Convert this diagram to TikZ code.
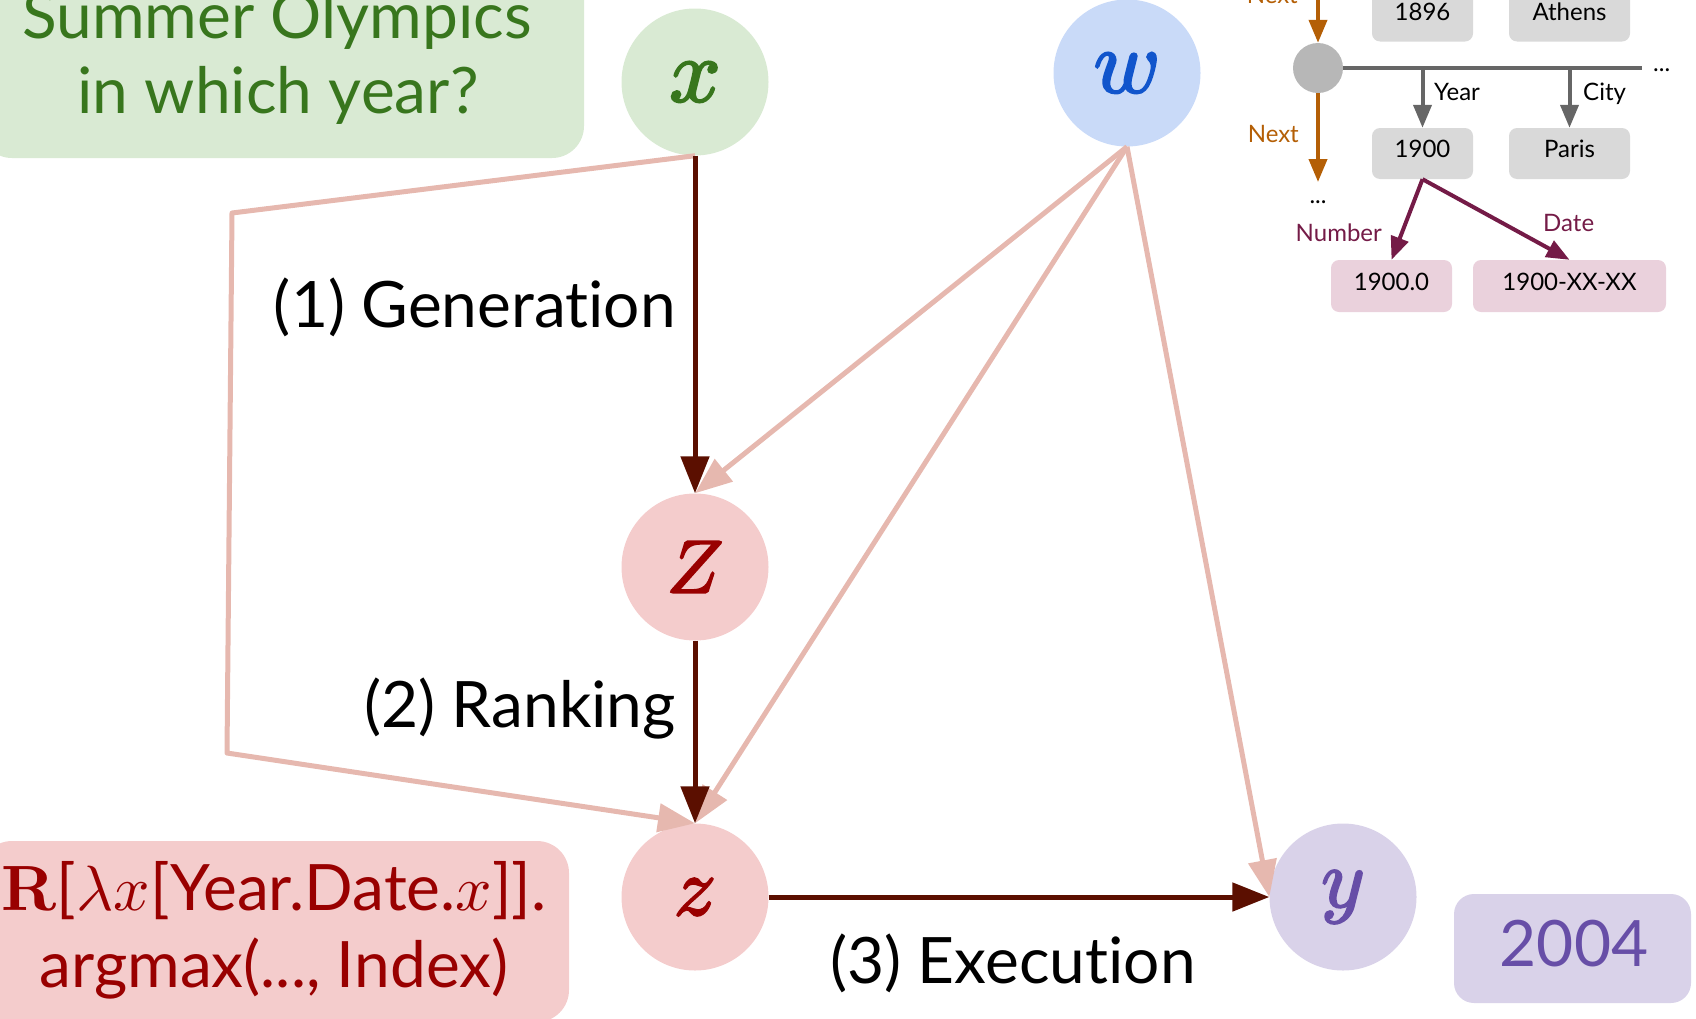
\RequirePackage{fix-cm}
\documentclass[tikz,border=0pt]{standalone}
\usepackage[no-math]{fontspec}
\setmainfont{Lato}[Ligatures=NoCommon]
\usepackage{graphicx}
\usetikzlibrary{arrows.meta}

% math set at 10pt and scaled up, so strokes keep the 10pt design weight
\newcommand\scaledmath[2]{\scalebox{#1}{\fontsize{10}{12}\selectfont$#2$}}
% same, with the glyph outline stroked as well as filled (heavier letters)
\newcommand\scaledheavymath[2]{\scalebox{#1}{\fontsize{10}{12}\selectfont
  \special{pdf:literal direct 2 Tr 0.25 w}$#2$\special{pdf:literal direct 0 Tr}}}

% palette
\definecolor{qfill}{HTML}{D9EAD3}
\definecolor{qtext}{HTML}{38761D}
\definecolor{wfill}{HTML}{C9DAF8}
\definecolor{wtext}{HTML}{1155CC}
\definecolor{zfill}{HTML}{F4CCCC}
\definecolor{ztext}{HTML}{990000}
\definecolor{yfill}{HTML}{D9D2E9}
\definecolor{ytext}{HTML}{674EA7}
\definecolor{darkarr}{HTML}{5B0F00}
\definecolor{lightarr}{HTML}{E6B8AF}
\definecolor{cellgray}{HTML}{D9D9D9}
\definecolor{circgray}{HTML}{B7B7B7}
\definecolor{edgegray}{HTML}{666666}
\definecolor{nextorange}{HTML}{B45F06}
\definecolor{valpink}{HTML}{EAD1DC}
\definecolor{valedge}{HTML}{741B47}

\begin{document}
\begin{tikzpicture}[x=1pt,y=-1pt,
  vnode/.style={circle, minimum size=147pt, inner sep=0pt},
  darkarrow/.style={draw=darkarr, line width=5pt, -{Triangle[length=37pt,width=28pt]}},
  lightarrow/.style={draw=lightarr, line width=5pt, line join=round,
                     -{Triangle[length=37pt,width=28pt]}},
  bigtext/.style={font=\fontsize{64}{77}\selectfont, inner sep=0pt},
  cell/.style={fill=cellgray, rounded corners=8pt, minimum height=51pt,
               inner sep=0pt, text height=17pt, text depth=9pt,
               font=\fontsize{24}{28}\selectfont},
  valcell/.style={cell, fill=valpink, minimum height=52pt},
  smalltext/.style={font=\fontsize{24}{28}\selectfont, inner sep=0pt},
  smallarrow/.style={line width=4pt, -{Triangle[length=23pt,width=18pt]}},
]
\useasboundingbox (0,0) rectangle (1696,1018);
\clip (0,0) rectangle (1696,1018);

% ---- question, program and answer boxes
\fill[qfill, rounded corners=32pt] (-20,-80) rectangle (584,158);
\node[bigtext, text=qtext, anchor=base] (q1) at (277,38) {Summer Olympics};
\node[bigtext, text=qtext, anchor=base] (q2) at (278,113) {in which year?};

\fill[zfill, rounded corners=32pt] (-20,841) rectangle (569,1022);
\node[bigtext, text=ztext, anchor=base] (p1) at (274,910)
  {\scaledmath{6.4}{\mathbf{R}}[\scaledmath{6.4}{\lambda x}[Year.Date.\scaledmath{6.4}{x}]].};
\node[bigtext, text=ztext, anchor=base] (p2) at (274,987) {argmax(..., Index)};

\fill[yfill, rounded corners=20pt] (1454,894) rectangle (1691,1003);
\node[bigtext, text=ytext, anchor=base] (ans) at (1574,966) {2004};

% ---- variables
\node[vnode, fill=qfill, text=qtext] (x) at (695,82) {\scaledheavymath{9.0}{x}};
\node[vnode, fill=wfill, text=wtext] (w) at (1127,73) {\scaledheavymath{9.0}{w}};
\node[vnode, fill=zfill, text=ztext] (Z) at (695,567) {\scaledheavymath{7.5}{Z}};
\node[vnode, fill=zfill, text=ztext] (z) at (695,897) {\scaledheavymath{8.3}{z}};
\node[vnode, fill=yfill, text=ytext] (y) at (1343,897) {\scaledheavymath{8.3}{y}};

% ---- dependencies
\draw[lightarrow] (x.south) -- (232,213) -- (227,753) -- (z.north);
\draw[lightarrow] (w.south) -- (Z.north);
\draw[lightarrow] (w.south) -- (z.north);
\draw[lightarrow] (w.south) -- (y.west);

\draw[darkarrow] (x.south) -- (Z.north);
\draw[darkarrow] (Z.south) -- (z.north);
\draw[darkarrow] (z.east) -- (y.west);

\node[bigtext, anchor=base east] (gen) at (676,327) {(1) Generation};
\node[bigtext, anchor=base east] (rank) at (676,727) {(2) Ranking};
\node[bigtext, anchor=base west] (exec) at (830,983) {(3) Execution};

% ---- knowledge graph fragment
\node[cell, minimum width=101pt] (c1896) at (1422.5,16) {1896};
\node[cell, minimum width=121pt] (athens) at (1569.5,16) {Athens};
\node[cell, minimum width=101pt] (c1900) at (1422.5,153.5) {1900};
\node[cell, minimum width=121pt] (paris) at (1569.5,153.5) {Paris};
\node[valcell, minimum width=121pt] (num) at (1391.5,286) {1900.0};
\node[valcell, minimum width=193pt] (date) at (1569.5,286) {1900-XX-XX};

\node[circle, fill=circgray, minimum size=50pt, inner sep=0pt] (row) at (1318,68) {};
\coordinate (rowend) at (1642,68);
\coordinate (yr) at (1422.5,68);
\coordinate (ct) at (1569.5,68);
\coordinate (prev) at (1318,-30);
\coordinate (nextrow) at (1318,182);

\draw[edgegray, line width=4pt] (row.east) -- (rowend);
\node[smalltext, anchor=base west] (dots1) at (1653,71) {...};
\draw[smallarrow, edgegray] (yr) -- (c1900.north);
\draw[smallarrow, edgegray] (ct) -- (paris.north);
\node[smalltext, anchor=base west] (lyear) at (1434,100) {Year};
\node[smalltext, anchor=base west] (lcity) at (1583,100) {City};

\draw[smallarrow, nextorange] (prev) -- (row.north);
\draw[smallarrow, nextorange] (row.south) -- (nextrow);
\node[smalltext, text=nextorange, anchor=base east] (next1) at (1298,3) {Next};
\node[smalltext, text=nextorange, anchor=base east] (next2) at (1299,142) {Next};
\node[smalltext, anchor=base] (dots2) at (1318,203) {...};

\draw[smallarrow, valedge] (c1900.south) -- (num.north);
\draw[smallarrow, valedge] (c1900.south) -- (date.north);
\node[smalltext, text=valedge, anchor=base east] (lnum) at (1382,241) {Number};
\node[smalltext, text=valedge, anchor=base west] (ldate) at (1543,231) {Date};
\end{tikzpicture}
\end{document}
